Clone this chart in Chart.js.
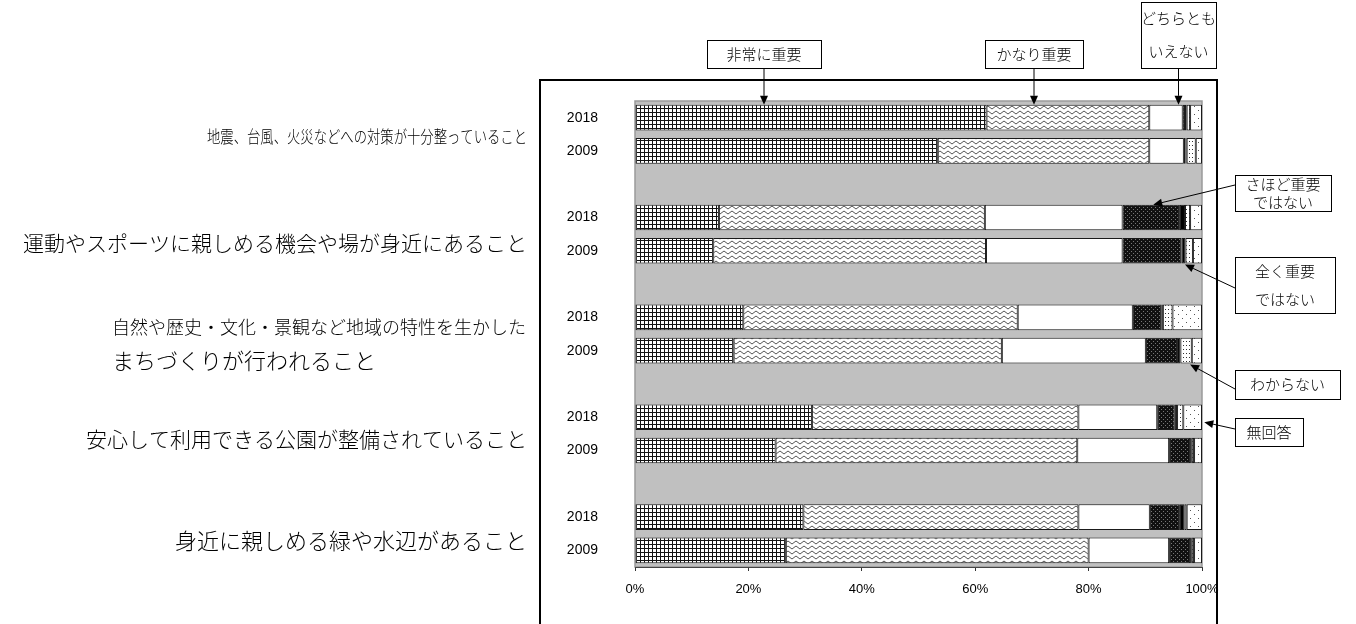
<!DOCTYPE html>
<html lang="ja">
<head>
<meta charset="utf-8">
<title>重要度の比較</title>
<script src="https://cdn.jsdelivr.net/npm/chart.js@4.4.1/dist/chart.umd.min.js"></script>
<style>
  html, body { margin: 0; padding: 0; background: #fff; }
  #wrap { width: 1356px; height: 624px; }
</style>
</head>
<body>
<div id="wrap"><canvas id="chart" width="1356" height="624"></canvas></div>
<script>
// 調査年
const years = ['2018', '2009'];

// 項目（左側のラベル）
const items = [
  ['地震、台風、火災などへの対策が十分整っていること'],
  ['運動やスポーツに親しめる機会や場が身近にあること'],
  ['自然や歴史・文化・景観など地域の特性を生かした', 'まちづくりが行われること'],
  ['安心して利用できる公園が整備されていること'],
  ['身近に親しめる緑や水辺があること']
];

// 回答区分
const answers = ['非常に重要', 'かなり重要', 'どちらともいえない', 'さほど重要ではない', '全く重要ではない', 'わからない', '無回答'];

// 割合(%)：項目ごとに 2018, 2009 の順
const veryImportant   = [62.0, 53.4, 14.8, 13.8, 19.1, 17.4, 31.2, 24.8, 29.7, 26.6];
const fairlyImportant = [28.7, 37.3, 46.9, 48.1, 48.4, 47.3, 47.0, 53.2, 48.5, 53.4];
const neither         = [5.9, 6.1, 24.3, 24.1, 20.3, 25.4, 13.9, 16.2, 12.6, 14.2];
const notVery         = [0.4, 0.3, 10.1, 10.4, 5.1, 5.5, 3.1, 3.7, 5.3, 3.7];
const notAtAll        = [0.3, 0.2, 0.9, 0.7, 0.2, 0.6, 0.4, 0.3, 0.8, 0.3];
const dontKnow        = [0.6, 1.6, 0.9, 1.3, 1.7, 2.0, 1.1, 0.4, 0.4, 0.4];
const noAnswer        = [2.1, 1.1, 2.1, 1.6, 5.2, 1.8, 3.3, 1.4, 2.7, 1.4];

const xTicks = [0, 20, 40, 60, 80, 100];

// 項目の間に空行をはさんだ行ラベルとデータ
const rowLabels = [];
items.forEach((_, i) => {
  if (i > 0) rowLabels.push('');
  years.forEach(y => rowLabels.push(y));
});
function withGaps(values) {
  const out = [];
  items.forEach((_, i) => {
    if (i > 0) out.push(null);
    years.forEach((_, j) => out.push(values[i * years.length + j]));
  });
  return out;
}
const rowOf = (item, year) => item * (years.length + 1) + year;

// 白黒の塗りパターン
function makePattern(w, h, draw) {
  const c = document.createElement('canvas');
  c.width = w; c.height = h;
  const g = c.getContext('2d');
  draw(g, w, h);
  return g.createPattern(c, 'repeat');
}
const fills = [
  makePattern(4, 4, g => {               // 格子
    g.fillStyle = '#fff'; g.fillRect(0, 0, 4, 4);
    g.fillStyle = '#111'; g.fillRect(0, 0, 4, 1); g.fillRect(0, 0, 1, 4);
  }),
  makePattern(8, 5, g => {               // 波線
    g.fillStyle = '#fff'; g.fillRect(0, 0, 8, 5);
    g.strokeStyle = '#555'; g.lineWidth = 1;
    g.beginPath(); g.moveTo(0, 4); g.lineTo(4, 1); g.lineTo(8, 4); g.stroke();
  }),
  '#ffffff',
  makePattern(4, 4, g => {               // 黒地に白点
    g.fillStyle = '#111'; g.fillRect(0, 0, 4, 4);
    g.fillStyle = '#777'; g.fillRect(1, 1, 1, 1); g.fillRect(3, 3, 1, 1);
  }),
  '#000000',
  makePattern(3, 4, g => {               // 細かい点
    g.fillStyle = '#fff'; g.fillRect(0, 0, 3, 4);
    g.fillStyle = '#333'; g.fillRect(1, 1, 1, 1);
  }),
  makePattern(8, 8, g => {               // まばらな点
    g.fillStyle = '#fff'; g.fillRect(0, 0, 8, 8);
    g.fillStyle = '#555'; g.fillRect(2, 2, 1, 1); g.fillRect(6, 6, 1, 1);
  })
];

const seriesValues = [veryImportant, fairlyImportant, neither, notVery, notAtAll, dontKnow, noAnswer];

const datasets = answers.map((name, i) => ({
  label: name,
  data: withGaps(seriesValues[i]),
  backgroundColor: fills[i],
  borderColor: '#1a1a1a',
  borderWidth: 1,
  borderSkipped: false,
  barPercentage: 0.77,
  categoryPercentage: 1
}));

// 左側ラベルの配置（左端x、グループ中央からのずれ）
const itemLayout = [
  { x: 207, dy: 2 },
  { x: 0, dy: 9 },
  { x: 112, dy: 10 },
  { x: 70, dy: 5 },
  { x: 174, dy: 7 }
];
const itemRight = 527;
const itemMinSize = 17;
const itemMaxSize = 22;

// 吹き出し（上側は縦矢印、右側は斜め矢印）
const topNotes = [
  { lines: ['非常に重要'], box: { x: 707, y: 40, w: 114, h: 28 } },
  { lines: ['かなり重要'], box: { x: 985, y: 40, w: 98, h: 28 } },
  { lines: ['どちらとも', 'いえない'], box: { x: 1141, y: 2, w: 75, h: 66 } }
];
const sideNotes = [
  { lines: ['さほど重要', 'ではない'], box: { x: 1235, y: 175, w: 96, h: 36 }, fromY: 185, row: rowOf(1, 0), value: 91.4, edge: 'top' },
  { lines: ['全く重要', 'ではない'], box: { x: 1235, y: 257, w: 100, h: 56 }, fromY: 288, row: rowOf(1, 1), value: 97.0, edge: 'bottom' },
  { lines: ['わからない'], box: { x: 1235, y: 370, w: 105, h: 29 }, fromY: 389, row: rowOf(2, 1), value: 97.9, edge: 'bottom' },
  { lines: ['無回答'], box: { x: 1235, y: 418, w: 68, h: 28 }, fromY: 429, row: rowOf(3, 0), value: 100.4, edge: 'mid' }
];

const cjk = '"Noto Sans CJK JP"';
const noteFont = '300 15px ' + cjk;

function arrow(ctx, x1, y1, x2, y2) {
  const a = Math.atan2(y2 - y1, x2 - x1);
  const len = 9, half = 4;
  ctx.beginPath();
  ctx.moveTo(x1, y1);
  ctx.lineTo(x2 - Math.cos(a) * len, y2 - Math.sin(a) * len);
  ctx.stroke();
  ctx.beginPath();
  ctx.moveTo(x2, y2);
  ctx.lineTo(x2 - Math.cos(a) * len - Math.sin(a) * half, y2 - Math.sin(a) * len + Math.cos(a) * half);
  ctx.lineTo(x2 - Math.cos(a) * len + Math.sin(a) * half, y2 - Math.sin(a) * len - Math.cos(a) * half);
  ctx.closePath();
  ctx.fill();
}

function drawBox(ctx, note) {
  const b = note.box;
  ctx.fillStyle = '#fff';
  ctx.fillRect(b.x, b.y, b.w, b.h);
  ctx.strokeStyle = '#000';
  ctx.lineWidth = 1;
  ctx.strokeRect(b.x + 0.5, b.y + 0.5, b.w, b.h);
  ctx.fillStyle = '#000';
  ctx.font = noteFont;
  ctx.textAlign = 'center';
  ctx.textBaseline = 'middle';
  const step = b.h / note.lines.length;
  note.lines.forEach((t, i) => ctx.fillText(t, b.x + b.w / 2, b.y + step * (i + 0.5)));
}

const decor = {
  id: 'decor',
  beforeDraw(chart) {
    const { ctx, chartArea: a } = chart;
    ctx.save();
    // 外枠
    ctx.strokeStyle = '#000';
    ctx.lineWidth = 2;
    ctx.strokeRect(540, 80, 677, 570);
    // プロットエリア
    ctx.fillStyle = '#c0c0c0';
    ctx.fillRect(a.left, a.top, a.right - a.left, a.bottom - a.top);
    ctx.strokeStyle = '#9a9a9a';
    ctx.lineWidth = 1.5;
    ctx.strokeRect(a.left, a.top, a.right - a.left, a.bottom - a.top);
    ctx.restore();
  },
  afterDraw(chart) {
    const { ctx } = chart;
    const x = chart.scales.x, y = chart.scales.y;
    const bars = chart.getDatasetMeta(0).data;
    ctx.save();

    // 左側の項目名（各行を決められた幅に収める）
    ctx.fillStyle = '#000';
    ctx.textBaseline = 'middle';
    items.forEach((lines, i) => {
      const lay = itemLayout[i];
      const room = itemRight - lay.x;
      const cy = (y.getPixelForValue(rowOf(i, 0)) + y.getPixelForValue(rowOf(i, 1))) / 2 + lay.dy;
      lines.forEach((t, k) => {
        const size = Math.max(itemMinSize, Math.min(itemMaxSize, Math.floor(room / [...t].length)));
        ctx.font = '300 ' + size + 'px ' + cjk;
        const ly = cy + (k - (lines.length - 1) / 2) * 34;
        if (lines.length === 1) {
          ctx.textAlign = 'right';
          ctx.fillText(t, itemRight, ly, room);
        } else {
          ctx.textAlign = 'left';
          ctx.fillText(t, lay.x, ly, room);
        }
      });
    });

    // 上側の吹き出し
    const first = bars[0];
    topNotes.forEach(n => {
      const cx = n.box.x + n.box.w / 2;
      ctx.strokeStyle = '#000';
      ctx.fillStyle = '#000';
      ctx.lineWidth = 1;
      arrow(ctx, cx, n.box.y + n.box.h, cx, first.y - first.height / 2);
      drawBox(ctx, n);
    });

    // 右側の吹き出し
    sideNotes.forEach(n => {
      const bar = bars[n.row];
      const tx = x.getPixelForValue(n.value);
      let ty = bar.y;
      if (n.edge === 'top') ty = bar.y - bar.height / 2;
      if (n.edge === 'bottom') ty = bar.y + bar.height / 2 + 1;
      if (n.edge === 'mid') ty = bar.y + 5;
      ctx.strokeStyle = '#000';
      ctx.fillStyle = '#000';
      ctx.lineWidth = 1;
      arrow(ctx, n.box.x, n.fromY, tx, ty);
      drawBox(ctx, n);
    });
    ctx.restore();
  }
};

Chart.defaults.font.family = '"Liberation Sans", "Noto Sans CJK JP", sans-serif';
Chart.defaults.color = '#000';

new Chart(document.getElementById('chart'), {
  type: 'bar',
  data: { labels: rowLabels, datasets: datasets },
  options: {
    indexAxis: 'y',
    responsive: false,
    animation: false,
    layout: { padding: { top: 101, right: 154, left: 0, bottom: 0 } },
    plugins: {
      legend: { display: false },
      tooltip: { enabled: false }
    },
    scales: {
      x: {
        stacked: true,
        min: 0,
        max: 100,
        afterBuildTicks: s => { s.ticks = xTicks.map(v => ({ value: v })); },
        afterFit: s => { s.height = 57; },
        ticks: { callback: v => v + '%', font: { size: 13 }, padding: 11, color: '#000' },
        grid: { drawOnChartArea: false, drawTicks: true, tickLength: 4, color: '#333' },
        border: { color: '#444', width: 1 }
      },
      y: {
        stacked: true,
        afterFit: s => { s.width = 635; },
        ticks: { font: { size: 14 }, padding: 37, color: '#000' },
        grid: { display: false, drawTicks: false },
        border: { display: false }
      }
    }
  },
  plugins: [decor]
});
</script>
</body>
</html>
